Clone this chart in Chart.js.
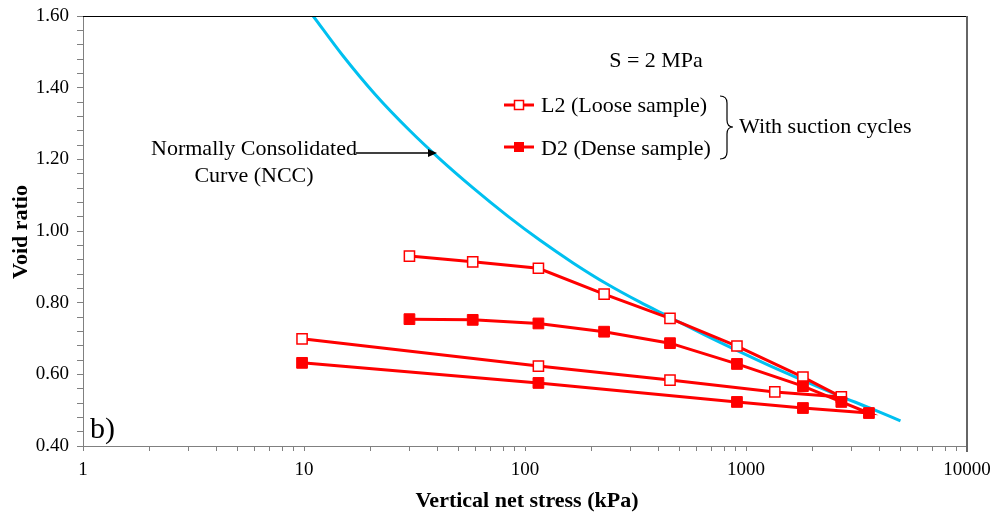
<!DOCTYPE html>
<html>
<head>
<meta charset="utf-8">
<script src="https://cdn.jsdelivr.net/npm/chart.js@4"></script>
<style>
  html, body { margin: 0; padding: 0; background: #fff; }
  #wrap { width: 997px; height: 518px; position: relative; }
</style>
</head>
<body>
<div id="wrap"><canvas id="chart"></canvas></div>
<script>
// data (stress in kPa, void ratio)
const stressL2 = [30, 58, 115, 228, 453, 910, 1810, 2700, 1350, 453, 115, 9.8];
const voidL2 = [0.930, 0.914, 0.896, 0.824, 0.756, 0.679, 0.592, 0.537, 0.551, 0.584, 0.623, 0.699];
const stressD2 = [30, 58, 115, 228, 453, 910, 1810, 2700, 3600, 1810, 910, 115, 9.8];
const voidD2 = [0.754, 0.752, 0.742, 0.719, 0.687, 0.629, 0.567, 0.523, 0.492, 0.506, 0.523, 0.576, 0.632];
const stressNCC = [11, 15, 21, 30, 41, 58, 83, 117, 165, 235, 330, 450, 650, 900, 1300, 1800, 2700, 3600, 5000];
const voidNCC = [1.600, 1.489, 1.381, 1.281, 1.202, 1.121, 1.043, 0.974, 0.911, 0.852, 0.802, 0.760, 0.710, 0.668, 0.622, 0.584, 0.538, 0.507, 0.470];
const xTickLabels = [1, 10, 100, 1000, 10000];
const yTickLabels = [0.4, 0.6, 0.8, 1.0, 1.2, 1.4, 1.6];

const RED = '#ff0000';
const BLUE = '#00c0f0';
const AXIS = '#808080';
const SERIF = '"Liberation Serif", "Times New Roman", serif';

function toPoints(xs, ys) {
    return xs.map((x, i) => ({ x: x, y: ys[i] }));
}

// extra drawing: frame, annotations, legend
const annotations = {
    id: 'annotations',
    afterDraw(chart) {
        const ctx = chart.ctx;
        const a = chart.chartArea;
        ctx.save();

        // top and right frame
        ctx.strokeStyle = '#000';
        ctx.lineWidth = 1;
        ctx.beginPath();
        ctx.moveTo(a.left, a.top + 0.5);
        ctx.lineTo(a.right, a.top + 0.5);
        ctx.stroke();
        ctx.strokeStyle = '#666';
        ctx.lineWidth = 2;
        ctx.beginPath();
        ctx.moveTo(a.right, a.top);
        ctx.lineTo(a.right, a.bottom + 6);
        ctx.stroke();

        ctx.fillStyle = '#000';
        ctx.textBaseline = 'alphabetic';

        // axis titles
        ctx.font = 'bold 22px ' + SERIF;
        ctx.textAlign = 'center';
        ctx.fillText('Vertical net stress (kPa)', (a.left + a.right) / 2 + 2, 507);
        ctx.save();
        ctx.translate(27, 232);
        ctx.rotate(-Math.PI / 2);
        ctx.fillText('Void ratio', 0, 0);
        ctx.restore();

        ctx.font = '22px ' + SERIF;
        ctx.fillText('S = 2 MPa', 656, 67);
        ctx.fillText('Normally Consolidated', 254, 155);
        ctx.fillText('Curve (NCC)', 254, 182);

        ctx.textAlign = 'left';
        ctx.fillText('L2 (Loose sample)', 541, 112);
        ctx.fillText('D2 (Dense sample)', 541, 155);
        ctx.fillText('With suction cycles', 739, 133);

        ctx.font = '30px ' + SERIF;
        ctx.fillText('b)', 90, 438);

        // arrow to the NCC
        ctx.strokeStyle = '#000';
        ctx.lineWidth = 1.3;
        ctx.beginPath();
        ctx.moveTo(356, 153);
        ctx.lineTo(430, 153);
        ctx.stroke();
        ctx.beginPath();
        ctx.moveTo(437, 153);
        ctx.lineTo(428, 149);
        ctx.lineTo(428, 157);
        ctx.closePath();
        ctx.fill();

        // brace
        ctx.lineWidth = 1.2;
        ctx.beginPath();
        ctx.moveTo(720, 96);
        ctx.quadraticCurveTo(727, 96, 727, 103);
        ctx.lineTo(727, 120);
        ctx.quadraticCurveTo(727, 127, 733, 127);
        ctx.quadraticCurveTo(727, 127, 727, 134);
        ctx.lineTo(727, 152);
        ctx.quadraticCurveTo(727, 159, 720, 159);
        ctx.stroke();

        // legend samples
        ctx.strokeStyle = RED;
        ctx.lineWidth = 3;
        [105, 147].forEach(y => {
            ctx.beginPath();
            ctx.moveTo(504, y);
            ctx.lineTo(534, y);
            ctx.stroke();
        });
        ctx.fillStyle = '#fff';
        ctx.lineWidth = 1.5;
        ctx.fillRect(514.5, 100.5, 9, 9);
        ctx.strokeRect(514.5, 100.5, 9, 9);
        ctx.fillStyle = RED;
        ctx.fillRect(514, 142, 10, 10);

        ctx.restore();
    }
};

const ctx = document.getElementById('chart').getContext('2d');
new Chart(ctx, {
    type: 'scatter',
    data: {
        datasets: [
            {
                label: 'D2 (Dense sample)',
                data: toPoints(stressD2, voidD2),
                showLine: true,
                borderColor: RED,
                borderWidth: 3,
                pointStyle: 'rect',
                pointRadius: 7.6,
                pointBackgroundColor: RED,
                pointBorderColor: RED,
                pointBorderWidth: 1
            },
            {
                label: 'L2 (Loose sample)',
                data: toPoints(stressL2, voidL2),
                showLine: true,
                borderColor: RED,
                borderWidth: 3,
                pointStyle: 'rect',
                pointRadius: 7.2,
                pointBackgroundColor: '#fff',
                pointBorderColor: RED,
                pointBorderWidth: 1.5
            },
            {
                label: 'Normally Consolidated Curve (NCC)',
                data: toPoints(stressNCC, voidNCC),
                showLine: true,
                borderColor: BLUE,
                borderWidth: 3,
                pointRadius: 0,
                cubicInterpolationMode: 'monotone'
            }
        ]
    },
    options: {
        responsive: true,
        maintainAspectRatio: false,
        animation: false,
        layout: { padding: { left: 0, top: 16, right: 30, bottom: 0 } },
        scales: {
            x: {
                type: 'logarithmic',
                min: 1,
                max: 10000,
                afterFit: s => {
                    s.height = 72;
                    s.paddingLeft = 0;
                    s.paddingRight = 0;
                },
                afterBuildTicks: s => {
                    const ticks = [];
                    xTickLabels.slice(0, -1).forEach(d => {
                        for (let k = 1; k <= 9; k++) ticks.push({ value: k * d });
                    });
                    ticks.push({ value: xTickLabels[xTickLabels.length - 1] });
                    s.ticks = ticks;
                },
                border: { color: AXIS, width: 1 },
                grid: { drawOnChartArea: false, drawTicks: true, tickLength: 5, color: AXIS },
                ticks: {
                    autoSkip: false,
                    maxRotation: 0,
                    padding: 8,
                    color: '#000',
                    font: { family: SERIF, size: 19 },
                    callback: v => xTickLabels.includes(v) ? String(v) : ''
                }
            },
            y: {
                type: 'linear',
                min: 0.4,
                max: 1.6,
                afterFit: s => {
                    s.width = 83;
                    s.paddingTop = 0;
                    s.paddingBottom = 0;
                },
                afterBuildTicks: s => {
                    const ticks = [];
                    for (let i = 0; i <= 30; i++) ticks.push({ value: Math.round((0.4 + 0.04 * i) * 100) / 100 });
                    s.ticks = ticks;
                },
                border: { color: AXIS, width: 1 },
                grid: { drawOnChartArea: false, drawTicks: true, tickLength: 6, color: AXIS },
                ticks: {
                    autoSkip: false,
                    padding: 8,
                    color: '#000',
                    font: { family: SERIF, size: 19 },
                    callback: v => yTickLabels.some(t => Math.abs(t - v) < 1e-6) ? v.toFixed(2) : ''
                }
            }
        },
        plugins: {
            legend: { display: false },
            tooltip: { enabled: false }
        }
    },
    plugins: [annotations]
});
</script>
</body>
</html>
